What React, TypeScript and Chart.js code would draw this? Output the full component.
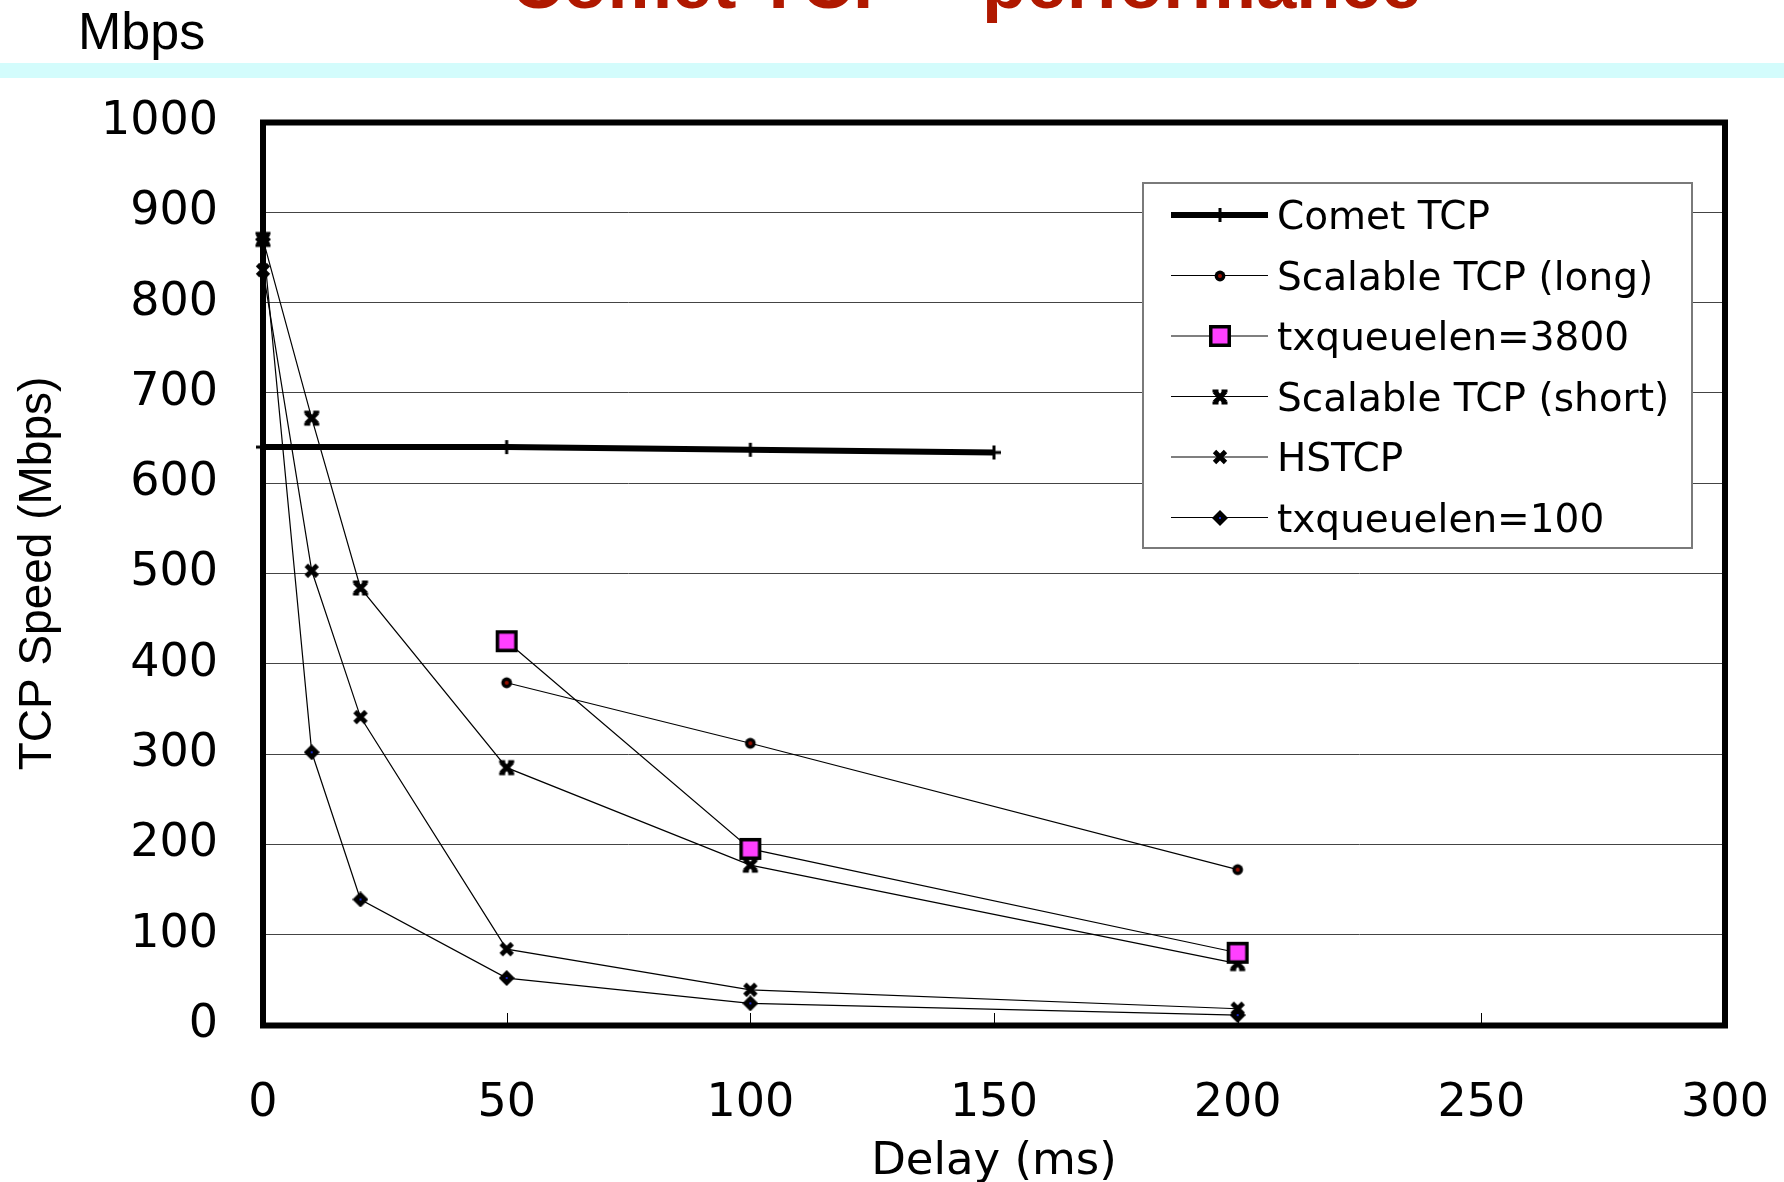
import React, { useEffect, useRef } from 'react';
import { Chart, registerables } from 'chart.js';

Chart.register(...registerables);

const W = 1784;
const H = 1182;

// ---- text ----
const titleText = 'Comet TCP – performance';
const unitText = 'Mbps';
const xTitle = 'Delay (ms)';
const yTitle = 'TCP Speed (Mbps)';
const seriesLabels = [
  'Comet TCP',
  'Scalable TCP (long)',
  'txqueuelen=3800',
  'Scalable TCP (short)',
  'HSTCP',
  'txqueuelen=100',
];

// ---- ticks ----
const delayTicks = [0, 50, 100, 150, 200, 250, 300];
const speedTicks = [0, 100, 200, 300, 400, 500, 600, 700, 800, 900, 1000];

// ---- data ----
const cometDelay = [0, 50, 100, 150];
const cometSpeed = [640, 640, 637, 634];

const longDelay = [50, 100, 200];
const scalableLongSpeed = [379, 312, 172];
const txq3800Speed = [425, 195, 80];

const shortDelay = [0, 10, 20, 50, 100, 200];
const scalableShortSpeed = [870, 672, 484, 285, 177, 68];
const hstcpSpeed = [836, 503, 341, 84, 39, 18];
const txq100Speed = [870, 302, 139, 52, 24, 11];

function pts(xs: number[], ys: number[]) {
  return xs.map((x, i) => ({ x, y: ys[i] }));
}

function makeMarker(size: number, draw: (ctx: CanvasRenderingContext2D, s: number) => void) {
  const c = document.createElement('canvas');
  c.width = size;
  c.height = size;
  const ctx = c.getContext('2d') as CanvasRenderingContext2D;
  draw(ctx, size);
  return c;
}

export default function App() {
  const ref = useRef<HTMLCanvasElement | null>(null);

  useEffect(() => {
    document.body.style.margin = '0';
    const canvas = ref.current;
    if (!canvas) return;

    const plus = makeMarker(16, (ctx, s) => {
      ctx.fillStyle = '#000';
      ctx.fillRect(s / 2 - 1.5, 1, 3, s - 2);
      ctx.fillRect(1, s / 2 - 1.5, s - 2, 3);
    });
    const dot = makeMarker(14, (ctx) => {
      ctx.fillStyle = '#000';
      ctx.beginPath();
      ctx.arc(7, 7, 5.4, 0, Math.PI * 2);
      ctx.fill();
      ctx.fillStyle = '#9a1000';
      ctx.beginPath();
      ctx.arc(7, 7, 2, 0, Math.PI * 2);
      ctx.fill();
    });
    const square = makeMarker(24, (ctx) => {
      ctx.fillStyle = '#000';
      ctx.fillRect(1, 1, 22, 22);
      ctx.fillStyle = '#FF40FF';
      ctx.fillRect(4.5, 4.5, 15, 15);
    });
    const drawX = (ctx: CanvasRenderingContext2D) => {
      ctx.strokeStyle = '#000';
      ctx.lineWidth = 4.8;
      ctx.lineCap = 'butt';
      ctx.beginPath();
      ctx.moveTo(3.5, 3.5);
      ctx.lineTo(14.5, 14.5);
      ctx.moveTo(14.5, 3.5);
      ctx.lineTo(3.5, 14.5);
      ctx.stroke();
    };
    const asterisk = makeMarker(18, (ctx) => {
      drawX(ctx);
      ctx.fillStyle = '#000';
      ctx.fillRect(1.5, 1.5, 6, 3);
      ctx.fillRect(10.5, 1.5, 6, 3);
      ctx.fillRect(1.5, 13.5, 6, 3);
      ctx.fillRect(10.5, 13.5, 6, 3);
    });
    const cross = makeMarker(18, (ctx) => {
      drawX(ctx);
    });
    const diamond = makeMarker(16, (ctx) => {
      ctx.fillStyle = '#000';
      ctx.beginPath();
      ctx.moveTo(8, 0);
      ctx.lineTo(16, 8);
      ctx.lineTo(8, 16);
      ctx.lineTo(0, 8);
      ctx.closePath();
      ctx.fill();
      ctx.fillStyle = '#1828c8';
      ctx.fillRect(7, 7, 2, 2);
    });

    const markers = [plus, dot, square, asterisk, cross, diamond];
    const widths = [6, 1.2, 1.2, 1.2, 1.2, 1.2];
    const seriesData = [
      pts(cometDelay, cometSpeed),
      pts(longDelay, scalableLongSpeed),
      pts(longDelay, txq3800Speed),
      pts(shortDelay, scalableShortSpeed),
      pts(shortDelay, hstcpSpeed),
      pts(shortDelay, txq100Speed),
    ];

    const datasets = seriesLabels.map((label, i) => ({
      label,
      data: seriesData[i],
      borderColor: '#000',
      backgroundColor: '#000',
      borderWidth: widths[i],
      pointStyle: markers[i],
      pointRadius: 8,
      pointBorderWidth: 0,
      tension: 0,
      fill: false,
      clip: false as any,
    }));

    const decor = {
      id: 'decor',
      beforeDraw(chart: any) {
        const ctx = chart.ctx as CanvasRenderingContext2D;
        ctx.save();
        ctx.fillStyle = '#ffffff';
        ctx.fillRect(0, 0, W, H);
        ctx.fillStyle = '#D3FCFC';
        ctx.fillRect(0, 63, W, 15);
        ctx.fillStyle = '#B01800';
        ctx.font = 'bold 72.5px "Liberation Sans"';
        ctx.textAlign = 'center';
        ctx.textBaseline = 'alphabetic';
        ctx.fillText(titleText, 966, 8.3);
        ctx.fillStyle = '#000';
        ctx.font = '52px "Liberation Sans"';
        ctx.textAlign = 'left';
        ctx.fillText(unitText, 78, 49);
        ctx.restore();
      },
      beforeDatasetsDraw(chart: any) {
        const ctx = chart.ctx as CanvasRenderingContext2D;
        const a = chart.chartArea;
        const xs = chart.scales.x;
        ctx.save();
        ctx.strokeStyle = '#000';
        ctx.lineWidth = 1;
        ctx.beginPath();
        delayTicks.forEach((v) => {
          if (v <= delayTicks[0] || v >= delayTicks[delayTicks.length - 1]) return;
          const px = Math.round(xs.getPixelForValue(v)) + 0.5;
          ctx.moveTo(px, a.bottom);
          ctx.lineTo(px, a.bottom - 12);
        });
        ctx.stroke();
        ctx.lineWidth = 6;
        ctx.strokeRect(a.left, a.top + 0.5, a.right - a.left, a.bottom - a.top);
        ctx.restore();
      },
      afterDatasetsDraw(chart: any) {
        const ctx = chart.ctx as CanvasRenderingContext2D;
        ctx.save();
        const bx = 1143, by = 183, bw = 549, bh = 365;
        ctx.fillStyle = '#fff';
        ctx.fillRect(bx, by, bw, bh);
        ctx.strokeStyle = '#7a7a7a';
        ctx.lineWidth = 2;
        ctx.strokeRect(bx, by, bw, bh);
        const rowY0 = 215;
        const rowStep = 60.5;
        chart.data.datasets.forEach((ds: any, i: number) => {
          const y = rowY0 + i * rowStep;
          ctx.strokeStyle = '#000';
          ctx.lineWidth = ds.borderWidth;
          ctx.beginPath();
          ctx.moveTo(1171, y);
          ctx.lineTo(1268, y);
          ctx.stroke();
          const m = ds.pointStyle as HTMLCanvasElement;
          ctx.drawImage(m, Math.round(1220 - m.width / 2), Math.round(y - m.height / 2));
          ctx.fillStyle = '#000';
          ctx.font = '39px "DejaVu Sans"';
          ctx.textAlign = 'left';
          ctx.textBaseline = 'alphabetic';
          ctx.fillText(ds.label, 1277, y + 14);
        });
        ctx.restore();
      },
    };

    const chart = new Chart(canvas, {
      type: 'line',
      data: { datasets: datasets as any },
      options: {
        responsive: false,
        animation: false,
        events: [],
        layout: { autoPadding: false, padding: { top: 122, right: 59, left: 0, bottom: 0 } },
        plugins: {
          legend: { display: false },
          tooltip: { enabled: false },
          title: { display: false },
        },
        scales: {
          x: {
            type: 'linear',
            min: delayTicks[0],
            max: delayTicks[delayTicks.length - 1],
            afterBuildTicks: (s: any) => {
              s.ticks = delayTicks.map((v) => ({ value: v }));
            },
            afterFit: (s: any) => {
              s.height = 157;
              s.paddingLeft = 0;
              s.paddingRight = 0;
            },
            grid: { display: false, drawTicks: false },
            border: { display: false },
            ticks: {
              color: '#000',
              font: { family: 'DejaVu Sans', size: 46, lineHeight: 1 },
              padding: 56,
              maxRotation: 0,
              autoSkip: false,
              callback: (v: any) => String(v),
            },
            title: {
              display: true,
              text: xTitle,
              color: '#000',
              font: { family: 'DejaVu Sans', size: 45, lineHeight: 0.86 },
              padding: { top: 0, bottom: 0 },
            },
          },
          y: {
            type: 'linear',
            min: speedTicks[0],
            max: speedTicks[speedTicks.length - 1],
            afterBuildTicks: (s: any) => {
              s.ticks = speedTicks.map((v) => ({ value: v }));
            },
            afterFit: (s: any) => {
              s.width = 263;
            },
            grid: { color: '#444', lineWidth: 1, drawTicks: false },
            border: { display: false },
            ticks: {
              color: '#000',
              font: { family: 'DejaVu Sans', size: 46, lineHeight: 1 },
              padding: 45,
              autoSkip: false,
              callback: (v: any) => String(v),
            },
            title: {
              display: true,
              text: yTitle,
              color: '#000',
              font: { family: 'Liberation Sans', size: 46, lineHeight: 1 },
              padding: { top: 15, bottom: 0 },
            },
          },
        },
      } as any,
      plugins: [decor],
    });

    return () => {
      chart.destroy();
    };
  }, []);

  return (
    <div style={{ position: 'absolute', left: 0, top: 0, width: W, height: H, background: '#fff' }}>
      <canvas ref={ref} width={W} height={H} style={{ display: 'block', width: W, height: H }} />
    </div>
  );
}
